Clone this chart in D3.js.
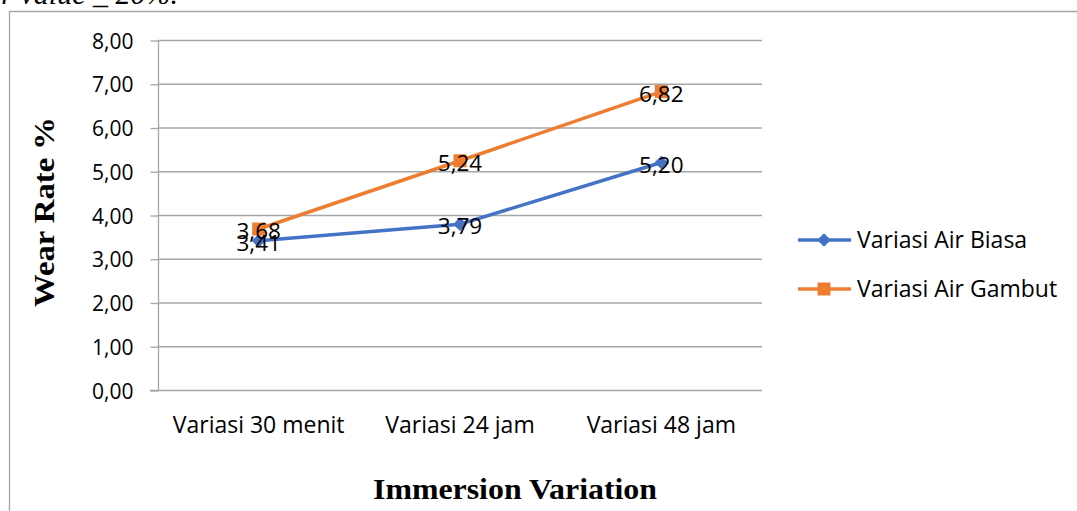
<!DOCTYPE html>
<html><head><meta charset="utf-8">
<script src="https://cdn.jsdelivr.net/npm/d3@7"></script>
<style>body{margin:0;background:#fff;overflow:hidden}</style>
</head><body>
<script>
const categories = ["Variasi 30 menit", "Variasi 24 jam", "Variasi 48 jam"];
const airBiasa = [3.41, 3.79, 5.20];
const airGambut = [3.68, 5.24, 6.82];
const seriesNames = ["Variasi Air Biasa", "Variasi Air Gambut"];
const yTicks = [0, 1, 2, 3, 4, 5, 6, 7, 8];

const W = 1077, H = 511;
const svg = d3.select("body").append("svg").attr("width", W).attr("height", H);
const fmt = v => v.toFixed(2).replace(".", ",");
const grid = "#a6a6a6";

// top cut text
svg.append("text").attr("x", 178).attr("y", 4).attr("text-anchor", "end").attr("font-family", "Liberation Serif")
  .attr("font-style", "italic").attr("font-size", 30).attr("fill", "#000").text("r value _ 20%.");

// chart border
svg.append("path").attr("d", `M9.5,${H+5}V11.5H${W+5}`).attr("fill", "none").attr("stroke", grid).attr("stroke-width", 1.3);

const x = d3.scaleBand().domain(categories).range([158, 762]);
const y = d3.scaleLinear().domain([0, 8]).range([390, 40]);

// gridlines
svg.append("g").selectAll("line").data(yTicks.filter(d => d > 0)).join("line")
  .attr("x1", 158).attr("x2", 762).attr("y1", d => y(d) + 0.5).attr("y2", d => y(d) + 0.5)
  .attr("stroke", grid).attr("stroke-width", 1.3);

// y axis
const yAxis = d3.axisLeft(y).tickValues(yTicks).tickFormat(fmt).tickSize(8).tickPadding(17);
const gy = svg.append("g").attr("transform", "translate(158.5,0.5)").call(yAxis);
gy.select(".domain").remove();
gy.selectAll(".tick line").attr("stroke", grid).attr("stroke-width", 1.3);
gy.selectAll("text").attr("font-family", "Open Sans").attr("font-size", 21).attr("fill", "#000").attr("dy", "0.36em");
svg.append("line").attr("x1", 158.5).attr("x2", 158.5).attr("y1", 40).attr("y2", 391)
  .attr("stroke", grid).attr("stroke-width", 1.3);
svg.append("line").attr("x1", 150).attr("x2", 762).attr("y1", 390.5).attr("y2", 390.5)
  .attr("stroke", grid).attr("stroke-width", 1.3);

// x category labels
svg.append("g").selectAll("text").data(categories).join("text")
  .attr("x", d => x(d) + x.bandwidth() / 2).attr("y", 433).attr("text-anchor", "middle")
  .attr("font-family", "Open Sans").attr("font-size", 23).attr("fill", "#000").text(d => d);

// axis titles
svg.append("text").attr("transform", "translate(54,212) rotate(-90)").attr("text-anchor", "middle")
  .attr("font-family", "Liberation Serif").attr("font-weight", "bold").attr("font-size", 29)
  .attr("textLength", 190).attr("lengthAdjust", "spacingAndGlyphs").text("Wear Rate %");
svg.append("text").attr("x", 515).attr("y", 499).attr("text-anchor", "middle")
  .attr("font-family", "Liberation Serif").attr("font-weight", "bold").attr("font-size", 29)
  .attr("textLength", 284).attr("lengthAdjust", "spacingAndGlyphs").text("Immersion Variation");

const colors = ["#4472C4", "#ED7D31"];
const data = [airBiasa, airGambut];
const cxOf = i => x(categories[i]) + x.bandwidth() / 2;
const line = d3.line().x((d, i) => cxOf(i)).y(d => y(d));

data.forEach((vals, s) => {
  svg.append("path").datum(vals).attr("d", line).attr("fill", "none")
    .attr("stroke", colors[s]).attr("stroke-width", 3.5).attr("stroke-linejoin", "round");
  const g = svg.append("g");
  vals.forEach((v, i) => {
    const cx = cxOf(i), cy = y(v);
    if (s === 0) g.append("path").attr("d", d3.symbol(d3.symbolDiamond2, 120)()).attr("transform", `translate(${cx},${cy})`).attr("fill", colors[s]);
    else g.append("rect").attr("x", cx - 6.5).attr("y", cy - 6.5).attr("width", 13).attr("height", 13).attr("fill", colors[s]);
  });
});
// data labels
data.forEach((vals, s) => {
  svg.append("g").selectAll("text").data(vals).join("text")
    .attr("x", (d, i) => cxOf(i))
    .attr("y", d => y(d) + 10).attr("text-anchor", "middle")
    .attr("font-family", "Open Sans").attr("font-size", 22.5).attr("fill", "#000").text(fmt);
});

// legend
seriesNames.forEach((n, s) => {
  const ly = 240 + s * 49;
  const g = svg.append("g");
  g.append("line").attr("x1", 798).attr("x2", 851).attr("y1", ly).attr("y2", ly).attr("stroke", colors[s]).attr("stroke-width", 3.5);
  if (s === 0) g.append("path").attr("d", d3.symbol(d3.symbolDiamond2, 120)()).attr("transform", `translate(824,${ly})`).attr("fill", colors[s]);
  else g.append("rect").attr("x", 817.5).attr("y", ly - 6.5).attr("width", 13).attr("height", 13).attr("fill", colors[s]);
  g.append("text").attr("x", 857).attr("y", ly + 8).attr("font-family", "Open Sans").attr("font-size", 23).attr("fill", "#000").text(n);
});
</script>
</body></html>
